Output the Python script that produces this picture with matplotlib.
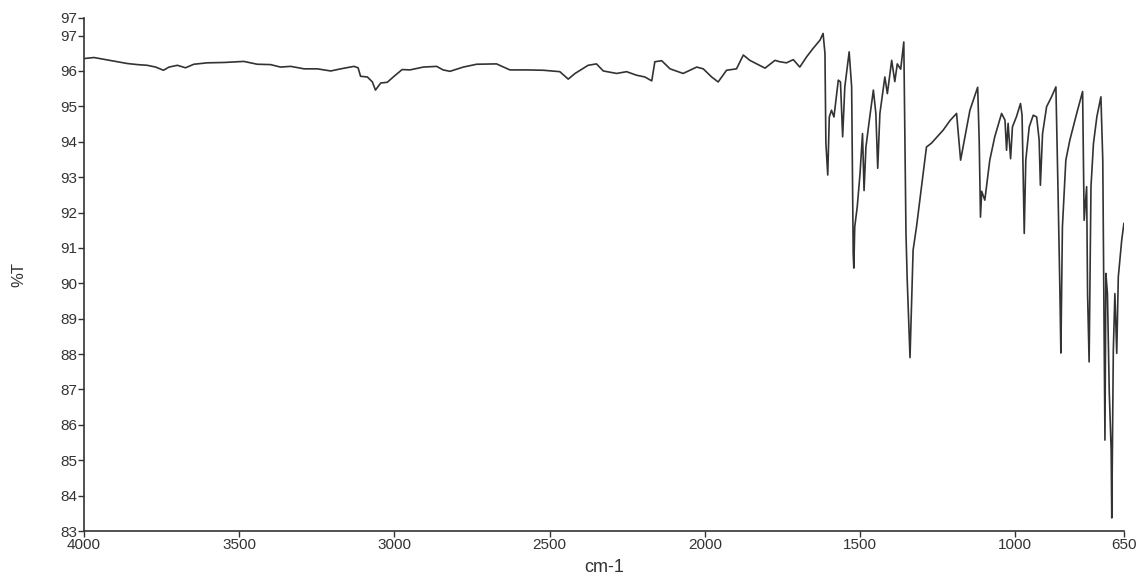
import matplotlib
matplotlib.use("Agg")
from matplotlib import pyplot as plt

plt.rcParams['font.family'] = ['Liberation Sans', 'DejaVu Sans']

# spectrum: wavenumber (cm-1) and %T
wavenumber = [
	4000, 3968, 3936, 3893, 3860, 3828, 3796, 3769, 3744, 3726,
	3699, 3673, 3646, 3603, 3549, 3485, 3442, 3399, 3367, 3334,
	3291, 3248, 3205, 3173, 3130, 3117, 3109, 3087, 3071, 3061,
	3044, 3023, 3001, 2975, 2950, 2907, 2864, 2843, 2821, 2778,
	2735, 2671, 2628, 2574, 2520, 2467, 2440, 2418, 2376, 2349,
	2327, 2284, 2252, 2220, 2193, 2171, 2161, 2139, 2112, 2070,
	2026, 2005, 1978, 1957, 1930, 1898, 1876, 1855, 1806, 1774,
	1758, 1737, 1715, 1694, 1672, 1651, 1629, 1619, 1613, 1610,
	1604, 1599, 1592, 1584, 1570, 1563, 1556, 1549, 1535, 1527,
	1522, 1520, 1517, 1509, 1500, 1492, 1487, 1481, 1470, 1457,
	1449, 1443, 1436, 1420, 1412, 1398, 1388, 1380, 1369, 1359,
	1352, 1348, 1339, 1329, 1318, 1302, 1286, 1270, 1232, 1210,
	1189, 1176, 1146, 1121, 1116, 1112, 1108, 1098, 1082, 1066,
	1044, 1033, 1028, 1023, 1015, 1009, 996, 983, 978, 971,
	966, 955, 942, 931, 923, 919, 912, 899, 883, 869,
	862, 856, 853, 848, 837, 824, 802, 783, 778, 770,
	767, 762, 756, 748, 737, 724, 718, 714, 711, 708,
	703, 697, 691, 689, 684, 679, 673, 668, 657, 650,
]
transmittance = [
	96.35, 96.38, 96.33, 96.26, 96.21, 96.18, 96.16, 96.11, 96.02, 96.11,
	96.16, 96.09, 96.19, 96.23, 96.24, 96.27, 96.19, 96.18, 96.11, 96.13,
	96.06, 96.06, 96.00, 96.06, 96.13, 96.09, 95.85, 95.83, 95.69, 95.46,
	95.66, 95.68, 95.85, 96.04, 96.03, 96.11, 96.13, 96.03, 95.99, 96.11,
	96.19, 96.20, 96.03, 96.03, 96.02, 95.98, 95.77, 95.93, 96.16, 96.20,
	96.00, 95.93, 95.98, 95.88, 95.83, 95.72, 96.26, 96.29, 96.06, 95.93,
	96.11, 96.06, 95.83, 95.69, 96.02, 96.06, 96.45, 96.30, 96.08, 96.30,
	96.26, 96.23, 96.32, 96.11, 96.40, 96.64, 96.87, 97.06, 96.50, 93.96,
	93.06, 94.70, 94.89, 94.70, 95.74, 95.69, 94.14, 95.55, 96.54, 95.55,
	90.85, 90.43, 91.60, 92.16, 93.10, 94.23, 92.62, 93.85, 94.61, 95.46,
	94.80, 93.25, 94.80, 95.83, 95.36, 96.30, 95.70, 96.20, 96.05, 96.82,
	91.42, 90.10, 87.90, 90.94, 91.60, 92.73, 93.85, 93.96, 94.33, 94.60,
	94.80, 93.48, 94.89, 95.54, 94.00, 91.87, 92.60, 92.35, 93.48, 94.14,
	94.80, 94.61, 93.76, 94.52, 93.52, 94.42, 94.71, 95.08, 94.75, 91.41,
	93.48, 94.42, 94.75, 94.70, 94.05, 92.77, 94.23, 94.99, 95.27, 95.55,
	92.54, 89.72, 88.03, 91.60, 93.48, 94.05, 94.80, 95.42, 91.78, 92.73,
	89.70, 87.78, 92.73, 93.95, 94.71, 95.27, 93.48, 88.77, 85.57, 90.28,
	89.71, 86.89, 85.29, 83.37, 88.11, 89.71, 88.02, 90.18, 91.22, 91.69,
]

x_ticks = [4000, 3500, 3000, 2500, 2000, 1500, 1000, 650]
y_ticks = [83, 84, 85, 86, 87, 88, 89, 90, 91, 92, 93, 94, 95, 96, 97, 97.5]
y_tick_labels = ["83", "84", "85", "86", "87", "88", "89", "90", "91", "92",
	"93", "94", "95", "96", "97", "97"]

fig = plt.figure(figsize=(11.41, 5.77), dpi=100)
ax = fig.add_axes([0.0736, 0.0797, 0.9114, 0.8893])

ax.plot(wavenumber, transmittance, color='#333333', linewidth=1.2)

ax.set_xlim(4000, 650)
ax.set_ylim(83, 97.5)
ax.set_xticks(x_ticks)
ax.set_xticklabels([str(v) for v in x_ticks])
ax.set_yticks(y_ticks)
ax.set_yticklabels(y_tick_labels)

for side in ['top', 'right']:
	ax.spines[side].set_visible(False)
for side in ['left', 'bottom']:
	ax.spines[side].set_color('#333333')
	ax.spines[side].set_linewidth(1.2)

ax.tick_params(axis='both', direction='out', length=4, width=1,
	color='#333333', labelsize=11, labelcolor='#333333', pad=1)

ax.set_xlabel("cm-1", fontsize=13, color='#333333', labelpad=5)
ax.set_ylabel("%T", fontsize=12, color='#333333', labelpad=24)

fig.savefig("out.png", dpi=100, facecolor='white')
